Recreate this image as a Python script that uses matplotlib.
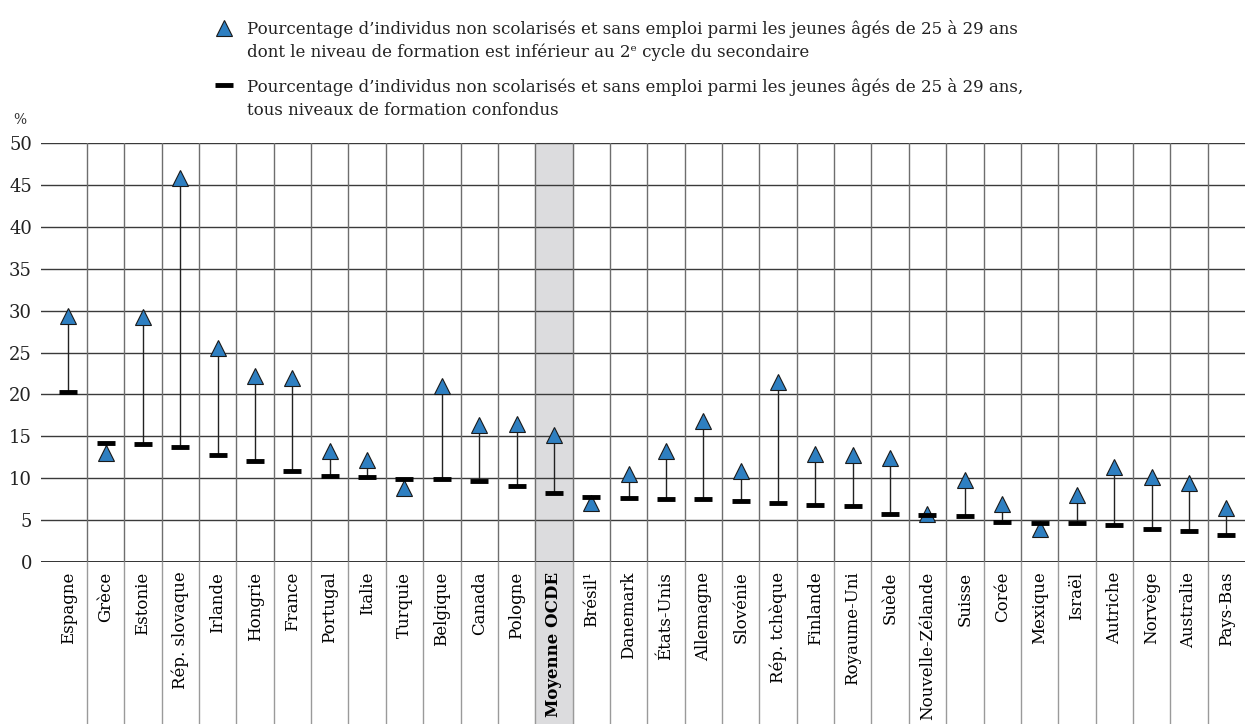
import matplotlib
matplotlib.use("Agg")
import matplotlib.pyplot as plt
from matplotlib.lines import Line2D
import numpy as np

plt.rcParams['font.family'] = ['DejaVu Serif', 'DejaVu Sans']

# donnees
pays = ["Espagne", "Grèce", "Estonie", "Rép. slovaque", "Irlande", "Hongrie", "France",
        "Portugal", "Italie", "Turquie", "Belgique", "Canada", "Pologne", "Moyenne OCDE",
        "Brésil¹", "Danemark", "États-Unis", "Allemagne", "Slovénie", "Rép. tchèque",
        "Finlande", "Royaume-Uni", "Suède", "Nouvelle-Zélande", "Suisse", "Corée",
        "Mexique", "Israël", "Autriche", "Norvège", "Australie", "Pays-Bas"]
inf_secondaire = [29.4, 13.0, 29.2, 45.8, 25.5, 22.2, 21.9, 13.3, 12.2, 8.8, 21.0, 16.4,
                  16.5, 15.2, 7.0, 10.5, 13.3, 16.8, 10.9, 21.5, 12.9, 12.8, 12.4, 5.7,
                  9.8, 6.9, 3.9, 8.0, 11.3, 10.1, 9.4, 6.5]
tous_niveaux = [20.3, 14.2, 14.1, 13.7, 12.8, 12.1, 10.9, 10.3, 10.1, 9.9, 9.9, 9.7,
                9.1, 8.2, 7.8, 7.6, 7.5, 7.5, 7.3, 7.1, 6.8, 6.7, 5.7, 5.6, 5.5, 4.8,
                4.7, 4.6, 4.4, 3.9, 3.7, 3.2]
moyenne = "Moyenne OCDE"

bleu = '#2e7fc1'
x = np.arange(len(pays))

fig = plt.figure(figsize=(12.45, 7.24), dpi=100)
ax = fig.add_axes([41 / 1245, 162 / 724, 1204 / 1245, 419 / 724])
ax.set_xlim(-0.73, len(pays) - 0.5)
ax.set_ylim(0, 50)

# colonne moyenne OCDE
im = pays.index(moyenne)
ax.axvspan(im - 0.5, im + 0.5, ymin=-0.4, ymax=1, color='#dcdcde', zorder=0, clip_on=False)

# grille
for yv in range(5, 51, 5):
    ax.axhline(yv, color='#3a3a3a', lw=1.0, zorder=1)
ax.axhline(0, color='#222222', lw=1.3, zorder=1)
for b in x[:-1] + 0.5:
    ax.axvline(b, ymin=0, ymax=1, color='#6e6e6e', lw=1.0, zorder=1)
    ax.axvline(b, ymin=-0.4, ymax=0, color='#9a9a9a', lw=1.0, zorder=1, clip_on=False)

# traits verticaux + marqueurs
ax.vlines(x, tous_niveaux, inf_secondaire, color='#222222', lw=1.0, zorder=2)
ax.plot(x, inf_secondaire, linestyle='none', marker='^', ms=11, mfc=bleu, mec='#1a1a1a',
        mew=0.8, zorder=3)
ax.plot(x, tous_niveaux, linestyle='none', marker='_', ms=13, mew=3.5, color='black', zorder=4)

for s in ax.spines.values():
    s.set_visible(False)
ax.set_yticks(range(0, 51, 5))
ax.tick_params(axis='y', length=0, pad=6.5, labelsize=13, colors='#222222')
ax.tick_params(axis='x', length=0, pad=7)
ax.set_xticks(x)
ax.set_xticklabels(pays, rotation=90, fontsize=12, va='top')
for lab in ax.get_xticklabels():
    if lab.get_text() == moyenne:
        lab.set_fontweight('bold')

fig.text(20 / 1245, 1 - 120 / 724, "%", fontsize=10, ha='center', va='center', color='#333333')

# legende
fig.add_artist(Line2D([224 / 1245], [1 - 27.5 / 724], marker='^', ms=11, mfc=bleu, mec='#1a1a1a',
                      mew=0.8, linestyle='none', transform=fig.transFigure))
fig.text(247 / 1245, 1 - 34 / 724,
         "Pourcentage d’individus non scolarisés et sans emploi parmi les jeunes âgés de 25 à 29 ans",
         fontsize=12, va='baseline', color='#222222')
fig.text(247 / 1245, 1 - 57 / 724,
         "dont le niveau de formation est inférieur au 2ᵉ cycle du secondaire",
         fontsize=12, va='baseline', color='#222222')
fig.add_artist(Line2D([224 / 1245], [1 - 85 / 724], marker='_', ms=13, mew=3.5, color='black',
                      linestyle='none', transform=fig.transFigure))
fig.text(247 / 1245, 1 - 92 / 724,
         "Pourcentage d’individus non scolarisés et sans emploi parmi les jeunes âgés de 25 à 29 ans,",
         fontsize=12, va='baseline', color='#222222')
fig.text(247 / 1245, 1 - 115 / 724, "tous niveaux de formation confondus",
         fontsize=12, va='baseline', color='#222222')

fig.savefig("out.png", dpi=100)
